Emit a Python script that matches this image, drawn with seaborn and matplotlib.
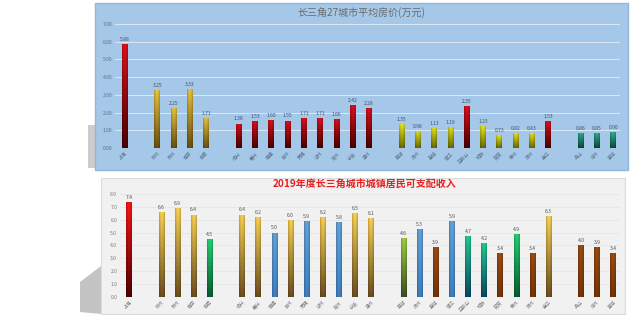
import numpy as np
import pandas as pd
import matplotlib
matplotlib.use("Agg")
import matplotlib.pyplot as plt
from matplotlib.colors import to_rgb
from matplotlib.patches import Rectangle, Polygon
import seaborn as sns

sns.set_style("white")
plt.rcParams['font.family'] = ['Noto Sans CJK SC', 'DejaVu Sans']

# ---------------- data ----------------
group1 = ["上海"]
group2 = ["杭州", "苏州", "南京", "合肥"]
group3 = ["绍兴", "嘉兴", "南通", "台州", "无锡", "湖州", "常州", "宁波", "温州"]
group4 = ["芜湖", "扬州", "盐城", "镇江", "马鞍山", "铜陵", "安庆", "泰州", "滁州", "金华"]
group5 = ["舟山", "池州", "宣城"]

price = [5.88, 3.25, 2.25, 3.33, 1.71,
         1.38, 1.53, 1.60, 1.55, 1.71, 1.71, 1.66, 2.42, 2.28,
         1.35, 0.98, 1.13, 1.19, 2.35, 1.23, 0.73, 0.82, 0.83, 1.53,
         0.86, 0.85, 0.90]
income = [7.4, 6.6, 6.9, 6.4, 4.5,
          6.4, 6.2, 5.0, 6.0, 5.9, 6.2, 5.8, 6.5, 6.1,
          4.6, 5.3, 3.9, 5.9, 4.7, 4.2, 3.4, 4.9, 3.4, 6.3,
          4.0, 3.9, 3.4]
price_colors = (["R"] + ["G"] * 4 + ["R"] * 9 +
                ["Y", "Y", "Y", "Y", "R", "Y", "Y", "Y", "Y", "R"] + ["T"] * 3)
income_colors = (["R", "Au", "Au", "Au", "Gn",
                  "Au", "Au", "B", "Au", "B", "Au", "B", "Au", "Au",
                  "LG", "B", "Br", "B", "GT", "GT", "Br", "Gn", "Br", "Au",
                  "Br", "Br", "Br"])

title_top = "长三角27城市平均房价(万元)"
title_bot = "2019年度长三角城市城镇居民可支配收入"

top_grad = {"R": ("#e0101c", "#4a0000"), "G": ("#eac43c", "#6a5010"),
            "Y": ("#e6e622", "#6e6a00"), "T": ("#2fb393", "#0a4a3c")}
bot_grad = {"R": ("#ff1414", "#500000"), "Au": ("#fbd253", "#6a5020"),
            "B": ("#64a4dc", "#3f80c0"), "Gn": ("#22d474", "#0a5e30"),
            "LG": ("#a2d244", "#3e5020"), "GT": ("#22cc92", "#0a4868"),
            "Br": ("#9c4c12", "#773408")}

# ---------------- category order with spacer slots ----------------
groups = [group1, group2, group3, group4, group5]
names = [n for g in groups for n in g]
order = []
for i, g in enumerate(groups):
    order += g
    if i < len(groups) - 1:
        order.append(" " * (i + 1))

df = pd.DataFrame({"city": names, "price": price, "income": income,
                   "pc": price_colors, "ic": income_colors})

W, H = 640, 320
fig = plt.figure(figsize=(6.4, 3.2), dpi=100)
fig.patch.set_facecolor("white")


def px_rect(x0, y0, x1, y1, **kw):
    r = Rectangle((x0 / W, 1 - y1 / H), (x1 - x0) / W, (y1 - y0) / H,
                  transform=fig.transFigure, zorder=-10, **kw)
    fig.patches.append(r)


def px_poly(pts, **kw):
    p = Polygon([(x / W, 1 - y / H) for x, y in pts], closed=True,
                transform=fig.transFigure, zorder=-10, **kw)
    fig.patches.append(p)


# decorations / panels
px_poly([(88, 125), (95, 125), (95, 168), (88, 168)], facecolor="#cccccc", edgecolor="none")
px_rect(95, 3, 628, 170, facecolor="#a6c8e8", edgecolor="#8fb6dc", linewidth=1.0)
px_poly([(80, 282), (101, 266), (101, 314), (80, 312)], facecolor="#c4c4c4", edgecolor="none")
px_rect(101, 178, 625, 314, facecolor="#f1f1f1", edgecolor="#dcdcdc", linewidth=0.8)


def gradient_bars(ax, colkey, grads):
    xl, yl = ax.get_xlim(), ax.get_ylim()
    for p in list(ax.patches):
        h = p.get_height()
        if not np.isfinite(h) or h <= 0:
            continue
        xc = p.get_x() + p.get_width() / 2
        slot = int(round(xc))
        name = order[slot]
        top, bot = grads[colkey[name]]
        t, b = np.array(to_rgb(top)), np.array(to_rgb(bot))
        yy = np.linspace(0, 1, 64)[:, None, None]
        col = b + (t - b) * yy
        xx = np.linspace(0, 1, 16)[None, :, None]
        shade = 0.78 + 0.22 * np.sin(np.pi * xx)
        img = np.clip(col * shade, 0, 1)
        x0, w = p.get_x(), p.get_width()
        im = ax.imshow(img, extent=(x0, x0 + w, 0, h), origin="lower",
                       aspect="auto", zorder=p.get_zorder() + 0.1, interpolation="bilinear")
        im.set_clip_path(p)
        p.set_facecolor("none")
        p.set_edgecolor("none")
    ax.set_xlim(xl)
    ax.set_ylim(yl)


def style_axes(ax, ymax, fmt, tick_color, grid_color):
    ax.set_facecolor("none")
    ax.patch.set_alpha(0)
    ax.set_ylim(0, ymax)
    ax.set_yticks(np.arange(0, ymax + 0.01, 1))
    ax.set_yticklabels([fmt % v for v in np.arange(0, ymax + 0.01, 1)],
                       fontsize=3.6, color=tick_color)
    ax.tick_params(axis="both", length=0, pad=2)
    for s in ax.spines.values():
        s.set_visible(False)
    ax.set_xlabel("")
    ax.set_ylabel("")
    if grid_color:
        ax.yaxis.grid(True, color=grid_color, linewidth=0.6)
        ax.set_axisbelow(True)
    ax.set_xticks(range(len(order)))
    ax.set_xticklabels([l.strip() for l in order], rotation=45, ha="right",
                       rotation_mode="anchor", fontsize=3.4, color=tick_color)


# ---------------- top chart ----------------
ax1 = fig.add_axes([115 / W, 1 - 148 / H, (620 - 115) / W, (148 - 24) / H])
pal1 = {n: top_grad[c][0] for n, c in zip(names, price_colors)}
sns.barplot(data=df, x="city", y="price", hue="city", order=order, hue_order=names,
            palette=pal1, width=0.36, legend=False, ax=ax1, saturation=1)
ax1.set_xlim(-0.6, 30.41)
style_axes(ax1, 7, "%.2f", "#5a6f88", "#e2edf8")
for c in ax1.containers:
    ax1.bar_label(c, fmt="%.2f", fontsize=3.6, color="#3f4f6a", padding=1.5)
gradient_bars(ax1, dict(zip(names, price_colors)), top_grad)
fig.text(361 / W, 1 - 13 / H, title_top, ha="center", va="center",
         fontsize=7.2, color="#6a6a6a")

# ---------------- bottom chart ----------------
ax2 = fig.add_axes([120 / W, 1 - 296.7 / H, (620 - 120) / W, (296.7 - 194) / H])
pal2 = {n: bot_grad[c][0] for n, c in zip(names, income_colors)}
sns.barplot(data=df, x="city", y="income", hue="city", order=order, hue_order=names,
            palette=pal2, width=0.36, legend=False, ax=ax2, saturation=1)
ax2.set_xlim(-0.57, 30.42)
style_axes(ax2, 8, "%.1f", "#7a7a7a", "#e6e6e6")
for c in ax2.containers:
    ax2.bar_label(c, fmt="%.1f", fontsize=3.6, color="#505050", padding=1.5)
gradient_bars(ax2, dict(zip(names, income_colors)), bot_grad)
fig.text(365 / W, 1 - 185 / H, title_bot, ha="center", va="center",
         fontsize=7.2, color="#e82020", fontweight="bold", style="italic")

fig.savefig("out.png", dpi=100, facecolor="white")
